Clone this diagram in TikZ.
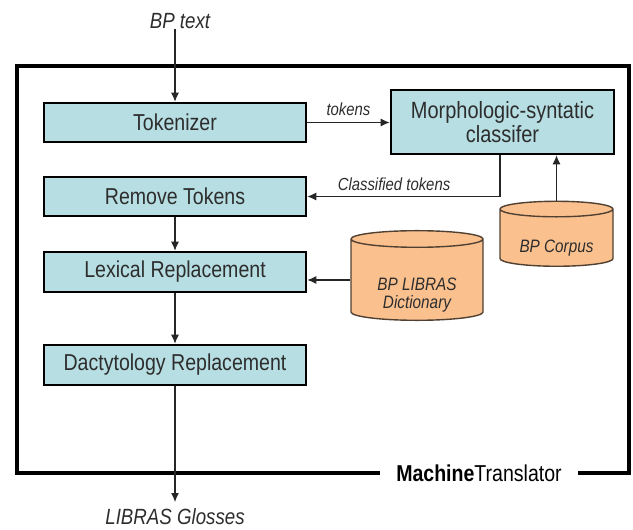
\documentclass[tikz,border=0pt]{standalone}
\usepackage{fontspec}
\setmainfont{Liberation Sans}[FakeStretch=0.85]
\usetikzlibrary{shapes.geometric,arrows.meta}
\definecolor{boxfill}{RGB}{183,222,226}
\definecolor{cylfill}{RGB}{250,193,143}
\definecolor{cylline}{RGB}{80,64,50}
\definecolor{txt}{RGB}{45,45,45}
\begin{document}
\begin{tikzpicture}[x=1pt,y=-1pt,
  proc/.style={draw=black, line width=2.6pt, fill=boxfill, minimum width=262pt, minimum height=39pt, inner sep=0pt, text=txt, font=\fontsize{23}{26}\selectfont},
  db/.style={cylinder, shape border rotate=90, draw=cylline, line width=1.4pt, fill=cylfill, aspect=0.21, inner sep=0pt, font=\itshape\fontsize{18}{18}\selectfont, text=txt, align=center},
  conn/.style={-{Latex[length=9pt,width=8pt]}, line width=1.1pt, draw=black!85},
  lbl/.style={font=\itshape\fontsize{17.5}{20}\selectfont, text=txt, inner sep=0pt},
  io/.style={font=\itshape\fontsize{22}{24}\selectfont, text=txt, inner sep=0pt},
  frame/.style={line width=4pt, draw=black, line join=miter}]
\useasboundingbox (0,0) rectangle (633,530);

\node[io] (bp) at (180,21) {BP text};
\node[proc] (tok) at (175,122.5) {Tokenizer};
\node[proc, minimum width=223pt, minimum height=64pt, align=center, font=\fontsize{23.5}{23.5}\selectfont] (cls) at (502.5,122) {Morphologic-syntatic\\classifer};
\node[proc] (rem) at (175,196.5) {Remove Tokens};
\node[proc, minimum height=40pt] (lex) at (175,272) {Lexical Replacement};
\node[proc, minimum height=40pt] (dac) at (175,365) {Dactytology Replacement};
\node[db, minimum width=113pt, minimum height=65pt, text height=33pt, text depth=4pt] (corp) at (556.5,238) {BP Corpus};
\node[db, minimum width=132pt, minimum height=74pt, text height=60pt, text depth=4pt] (dict) at (417,280) {BP LIBRAS\\Dictionary};
\node[io] (gloss) at (175,517) {LIBRAS Glosses};
\node[font=\fontsize{23}{26}\selectfont, inner xsep=16pt, inner ysep=0pt] (mt) at (479,473) {\textbf{Machine}Translator};
\coordinate (glossin) at (175,502);

\draw[frame] (mt.west) -| (17,66) -| (629,473) -- (mt.east);

\draw[conn] (tok.north |- bp.south) -- (tok.north);
\draw[conn] (tok.east) -- (tok.east -| cls.west) node[lbl, midway, above=6pt] (tk) {tokens};
\draw[conn] ([xshift=-2.5pt]cls.south) |- (rem.east) node[lbl, pos=0.775, above=5pt] (ct) {Classified tokens};
\draw[conn] (corp.north) -- (corp.north |- cls.south);
\draw[conn] (rem) -- (lex);
\draw[conn] (dict.west) -- (dict.west -| lex.east);
\draw[conn] (lex) -- (dac);
\draw[conn] (dac) -- (glossin);
\end{tikzpicture}
\end{document}
